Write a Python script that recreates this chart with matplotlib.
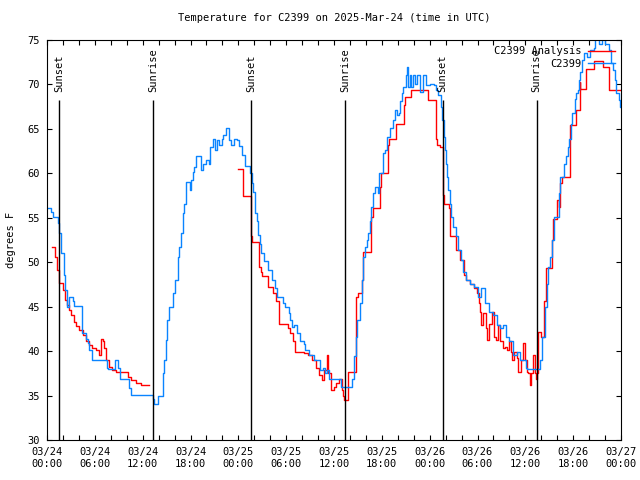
import matplotlib
matplotlib.use('Agg')
import matplotlib.pyplot as plt
import matplotlib.dates as mdates
import numpy as np
import pandas as pd

# hours after 2025-03-24 00:00 UTC, temperature in F
obs_hours = [0.0, 0.45, 0.7, 1.35, 1.55, 1.75, 2.1, 2.3, 2.55, 2.75, 3.2, 3.4, 4.4, 4.85, 5.1, 5.3, 5.6,
             7.5, 7.65, 8.55, 8.85, 9.15, 10.3, 10.5, 13.25, 13.45, 13.9, 14.55, 14.7, 14.9, 15.1, 15.3,
             15.75, 16.0, 16.4, 16.6, 16.8, 17.0, 17.2, 17.4, 17.9, 18.05, 18.3, 18.45, 18.65, 19.35,
             19.55, 20.0, 20.3, 20.5, 20.8, 21.05, 21.3, 21.6, 21.9, 22.1, 22.5, 22.85, 23.05, 23.4,
             23.8, 24.1, 24.5, 24.8, 25.5, 25.7, 25.9, 26.1, 26.3, 26.5, 26.7, 26.9, 27.2, 27.7, 28.2,
             28.6, 28.9, 29.6, 29.9, 30.3, 30.5, 30.7, 30.95, 31.3, 31.7, 32.2, 32.4, 32.9, 33.5, 34.2,
             34.6, 34.9, 35.1, 35.4, 36.9, 38.2, 38.5, 38.75, 38.9, 39.2, 39.5, 39.7, 39.9, 40.1, 40.3,
             40.5, 40.7, 40.9, 41.1, 41.55, 41.7, 42.1, 42.4, 42.7, 43.0, 43.4, 43.7, 43.9, 44.1, 44.3,
             44.5, 44.7, 45.0, 45.2, 45.3, 45.5, 45.7, 45.9, 46.1, 46.4, 46.8, 47.2, 47.6, 48.0, 48.5,
             48.8, 49.1, 49.4, 49.6, 49.8, 49.9, 50.05, 50.2, 50.35, 50.5, 50.7, 50.9, 51.3, 51.6, 51.9,
             52.2, 52.6, 53.0, 53.5, 54.1, 54.5, 54.9, 55.4, 56.0, 56.4, 56.8, 57.2, 57.6, 58.0, 58.4,
             58.9, 59.3, 60.1, 60.2, 61.9, 62.1, 62.5, 62.7, 62.9, 63.1, 63.3, 63.6, 64.2, 64.4, 64.9,
             65.1, 65.3, 65.5, 65.7, 65.9, 66.2, 66.4, 66.55, 66.7, 66.9, 67.1, 67.3, 67.7, 68.1, 68.6,
             68.8, 69.2, 69.6, 70.0, 70.5, 70.7, 71.0, 71.2, 71.4, 71.7, 71.9, 72.0]
obs_temp = [56.1, 55.7, 55.05, 54.4, 53.3, 51.0, 48.6, 46.9, 45.0, 46.1, 45.6, 45.1, 42.0, 41.4, 40.9, 40.1, 39.0,
            38.1, 38.0, 39.0, 38.1, 36.9, 35.8, 35.06, 34.6, 34.0, 35.0, 37.5, 39.0, 41.25, 43.5, 45.0,
            46.5, 48.0, 50.6, 51.75, 53.25, 55.5, 56.6, 59.0, 58.1, 59.25, 60.2, 60.75, 62.0, 60.4,
            61.0, 61.5, 61.1, 63.0, 63.9, 62.6, 63.75, 63.2, 63.9, 64.3, 65.06, 63.75, 63.2, 63.9,
            63.75, 63.1, 62.1, 60.8, 60.0, 58.9, 57.9, 55.5, 54.6, 53.1, 52.1, 51.0, 50.1, 49.1, 48.0,
            47.1, 46.1, 45.4, 45.0, 44.25, 43.5, 42.75, 42.9, 42.0, 41.1, 40.8, 40.1, 39.6, 39.0, 37.9,
            38.1, 37.5, 37.9, 36.9, 36.0, 36.9, 39.4, 41.6, 43.5, 45.4, 48.0, 50.6, 51.75, 52.5, 53.25,
            54.6, 56.25, 57.75, 58.5, 57.75, 60.0, 62.25, 62.6, 64.1, 65.06, 66.0, 67.1, 66.6, 66.75, 68.1,
            69.0, 69.75, 71.1, 72.0, 69.75, 71.1, 69.75, 71.1, 70.1, 71.1, 69.2, 71.1, 69.9, 70.1, 69.9,
            69.4, 68.8, 67.5, 66.0, 64.1, 62.6, 61.1, 59.6, 58.1, 56.6, 55.1, 54.0, 52.9, 51.4, 50.25,
            48.9, 48.0, 47.6, 47.25, 46.1, 47.1, 45.4, 44.4, 44.1, 42.9, 42.6, 42.9, 41.6, 41.1, 39.6,
            39.9, 39.0, 38.1, 38.0, 39.0, 41.6, 45.0, 47.6, 49.5, 50.6, 52.5, 55.1, 57.75, 59.6, 61.1,
            61.9, 63.0, 63.9, 65.6, 66.75, 68.4, 69.0, 69.4, 70.5, 71.4, 72.75, 73.5, 73.1, 73.9, 74.1,
            75.5, 74.6, 75.5, 74.6, 73.9, 72.4, 71.6, 70.5, 69.0, 68.25, 67.5, 67.5]

ana_hours = [0.6, 1.05, 1.25, 1.45, 1.55, 2.0, 2.2, 2.45, 2.7, 3.0, 3.4, 3.7, 4.05, 4.5, 4.9, 5.3, 5.6,
             6.15, 6.55, 6.8, 7.0, 7.2, 7.4, 7.8, 8.2, 8.6, 10.1, 10.5, 11.2, 11.8, 12.85,
             24.0, 24.6, 25.55, 25.65, 25.7, 26.6, 26.8, 27.0, 27.7, 28.3, 28.7, 29.1, 30.2, 30.5,
             30.9, 31.1, 32.2, 32.7, 33.3, 33.8, 34.15, 34.45, 34.8, 35.1, 35.3, 35.6, 36.0, 36.3,
             36.6, 37.0, 37.15, 37.3, 37.8, 38.75, 38.95, 39.5, 39.65, 40.7, 40.85, 41.75, 41.85,
             42.75, 42.95, 43.8, 44.75, 44.9, 45.6, 47.8, 48.75, 48.95, 49.25, 49.65, 49.85, 50.4,
             50.55, 51.25, 51.75, 52.35, 52.6, 53.0, 53.5, 53.9, 54.2, 54.35, 54.5, 54.75, 55.05,
             55.2, 55.45, 55.85, 56.1, 56.35, 56.6, 56.85, 57.15, 57.45, 57.65, 57.95, 58.15, 58.35,
             58.55, 58.9, 59.1, 59.5, 59.75, 59.95, 60.15, 60.35, 60.55, 60.75, 60.95, 61.2, 61.35,
             61.5, 61.65, 61.95, 62.4, 62.6, 63.35, 63.5, 64.0, 64.2, 64.4, 64.55, 65.55, 66.35,
             66.8, 66.9, 67.55, 68.65, 69.75, 70.55, 72.0]
ana_temp = [51.75, 50.6, 49.1, 48.4, 47.7, 46.9, 45.75, 45.2, 44.6, 44.1, 43.3, 42.8, 42.4, 41.8, 41.1, 40.7, 40.3,
            40.1, 39.6, 41.4, 41.1, 40.3, 39.0, 38.25, 37.9, 37.6, 37.1, 36.7, 36.45, 36.2, np.nan,
            60.45, 57.5, 55.1, 52.9, 52.3, 49.5, 48.9, 48.4, 47.25, 46.5, 45.6, 43.1, 42.6, 42.0,
            41.1, 39.9, 39.75, 39.6, 39.0, 38.1, 37.3, 36.75, 37.9, 39.6, 37.5, 35.6, 36.0, 36.4,
            36.9, 35.6, 34.9, 34.5, 37.7, 46.1, 46.5, 48.0, 51.2, 55.1, 56.1, 58.5, 60.0,
            63.2, 63.9, 65.6, 67.7, 68.6, 69.4, 68.25, 63.9, 63.2, 63.0, 57.6, 56.6, 56.1,
            52.9, 51.4, 50.25, 48.6, 48.0, 47.6, 47.1, 46.5, 45.4, 44.4, 42.9, 44.25, 42.6,
            41.25, 43.1, 44.4, 41.6, 41.25, 42.9, 41.1, 40.3, 40.5, 40.1, 41.1, 39.9, 39.0,
            39.9, 39.2, 37.7, 39.0, 40.9, 39.0, 37.7, 37.5, 36.2, 37.5, 39.6, 37.5, 36.9,
            37.5, 42.2, 41.6, 45.6, 49.4, 52.5, 54.9, 57.0, 56.25, 58.9, 59.6, 65.4, 67.1,
            70.3, 69.45, 71.7, 72.6, 72.0, 69.4, 69.4]

sun_hours = [1.55, 13.34, 25.63, 37.42, 49.63, 61.42]
sun_labels = ['Sunset', 'Sunrise', 'Sunset', 'Sunrise', 'Sunset', 'Sunrise']

base = pd.Timestamp('2025-03-24 00:00')
def to_time(h):
    return base + pd.to_timedelta(np.array(h), unit='h')

plt.rcParams['font.family'] = 'DejaVu Sans Mono'
plt.rcParams['font.size'] = 7.5

fig = plt.figure(figsize=(6.4, 4.8), dpi=100)
ax = fig.add_axes([47/640, 40/480, 574/640, 400/480])

ax.step(to_time(ana_hours), ana_temp, where='post', color='#ff0000', lw=1.0, label='C2399 Analysis')
ax.step(to_time(obs_hours), obs_temp, where='post', color='#0a84ff', lw=1.0, label='C2399')

for h, lab in zip(sun_hours, sun_labels):
    t = to_time([h])[0]
    ax.vlines(t, 30, 68.3, color='black', lw=1.0)
    ax.text(t, 69.2, lab, rotation=90, ha='center', va='bottom')

ax.set_xlim(base, base + pd.Timedelta(hours=72))
ax.set_ylim(30, 75)
ax.set_yticks(np.arange(30, 76, 5))
ax.xaxis.set_major_locator(mdates.HourLocator(byhour=range(0, 24, 6)))
ax.xaxis.set_minor_locator(mdates.HourLocator(byhour=range(0, 24, 2)))
ax.xaxis.set_major_formatter(mdates.DateFormatter('%m/%d\n%H:%M'))
for lbl in ax.get_xticklabels():
    lbl.set_linespacing(1.3)
ax.tick_params(which='both', direction='in', top=True, right=True, length=3.6, width=0.8)
ax.tick_params(axis='x', pad=5)
ax.tick_params(axis='y', pad=5)
for s in ax.spines.values():
    s.set_linewidth(0.8)

ax.set_title('Temperature for C2399 on 2025-Mar-24 (time in UTC)', fontsize=7.5, pad=14)
ax.set_ylabel('degrees F')
ax.yaxis.set_label_coords(-0.054, 0.5)

ax.legend(loc='upper right', frameon=False, markerfirst=False, handlelength=2.6,
          labelspacing=0.25, borderaxespad=0.2, handletextpad=0.6, fontsize=7.5)

fig.savefig('out.png', dpi=100)
